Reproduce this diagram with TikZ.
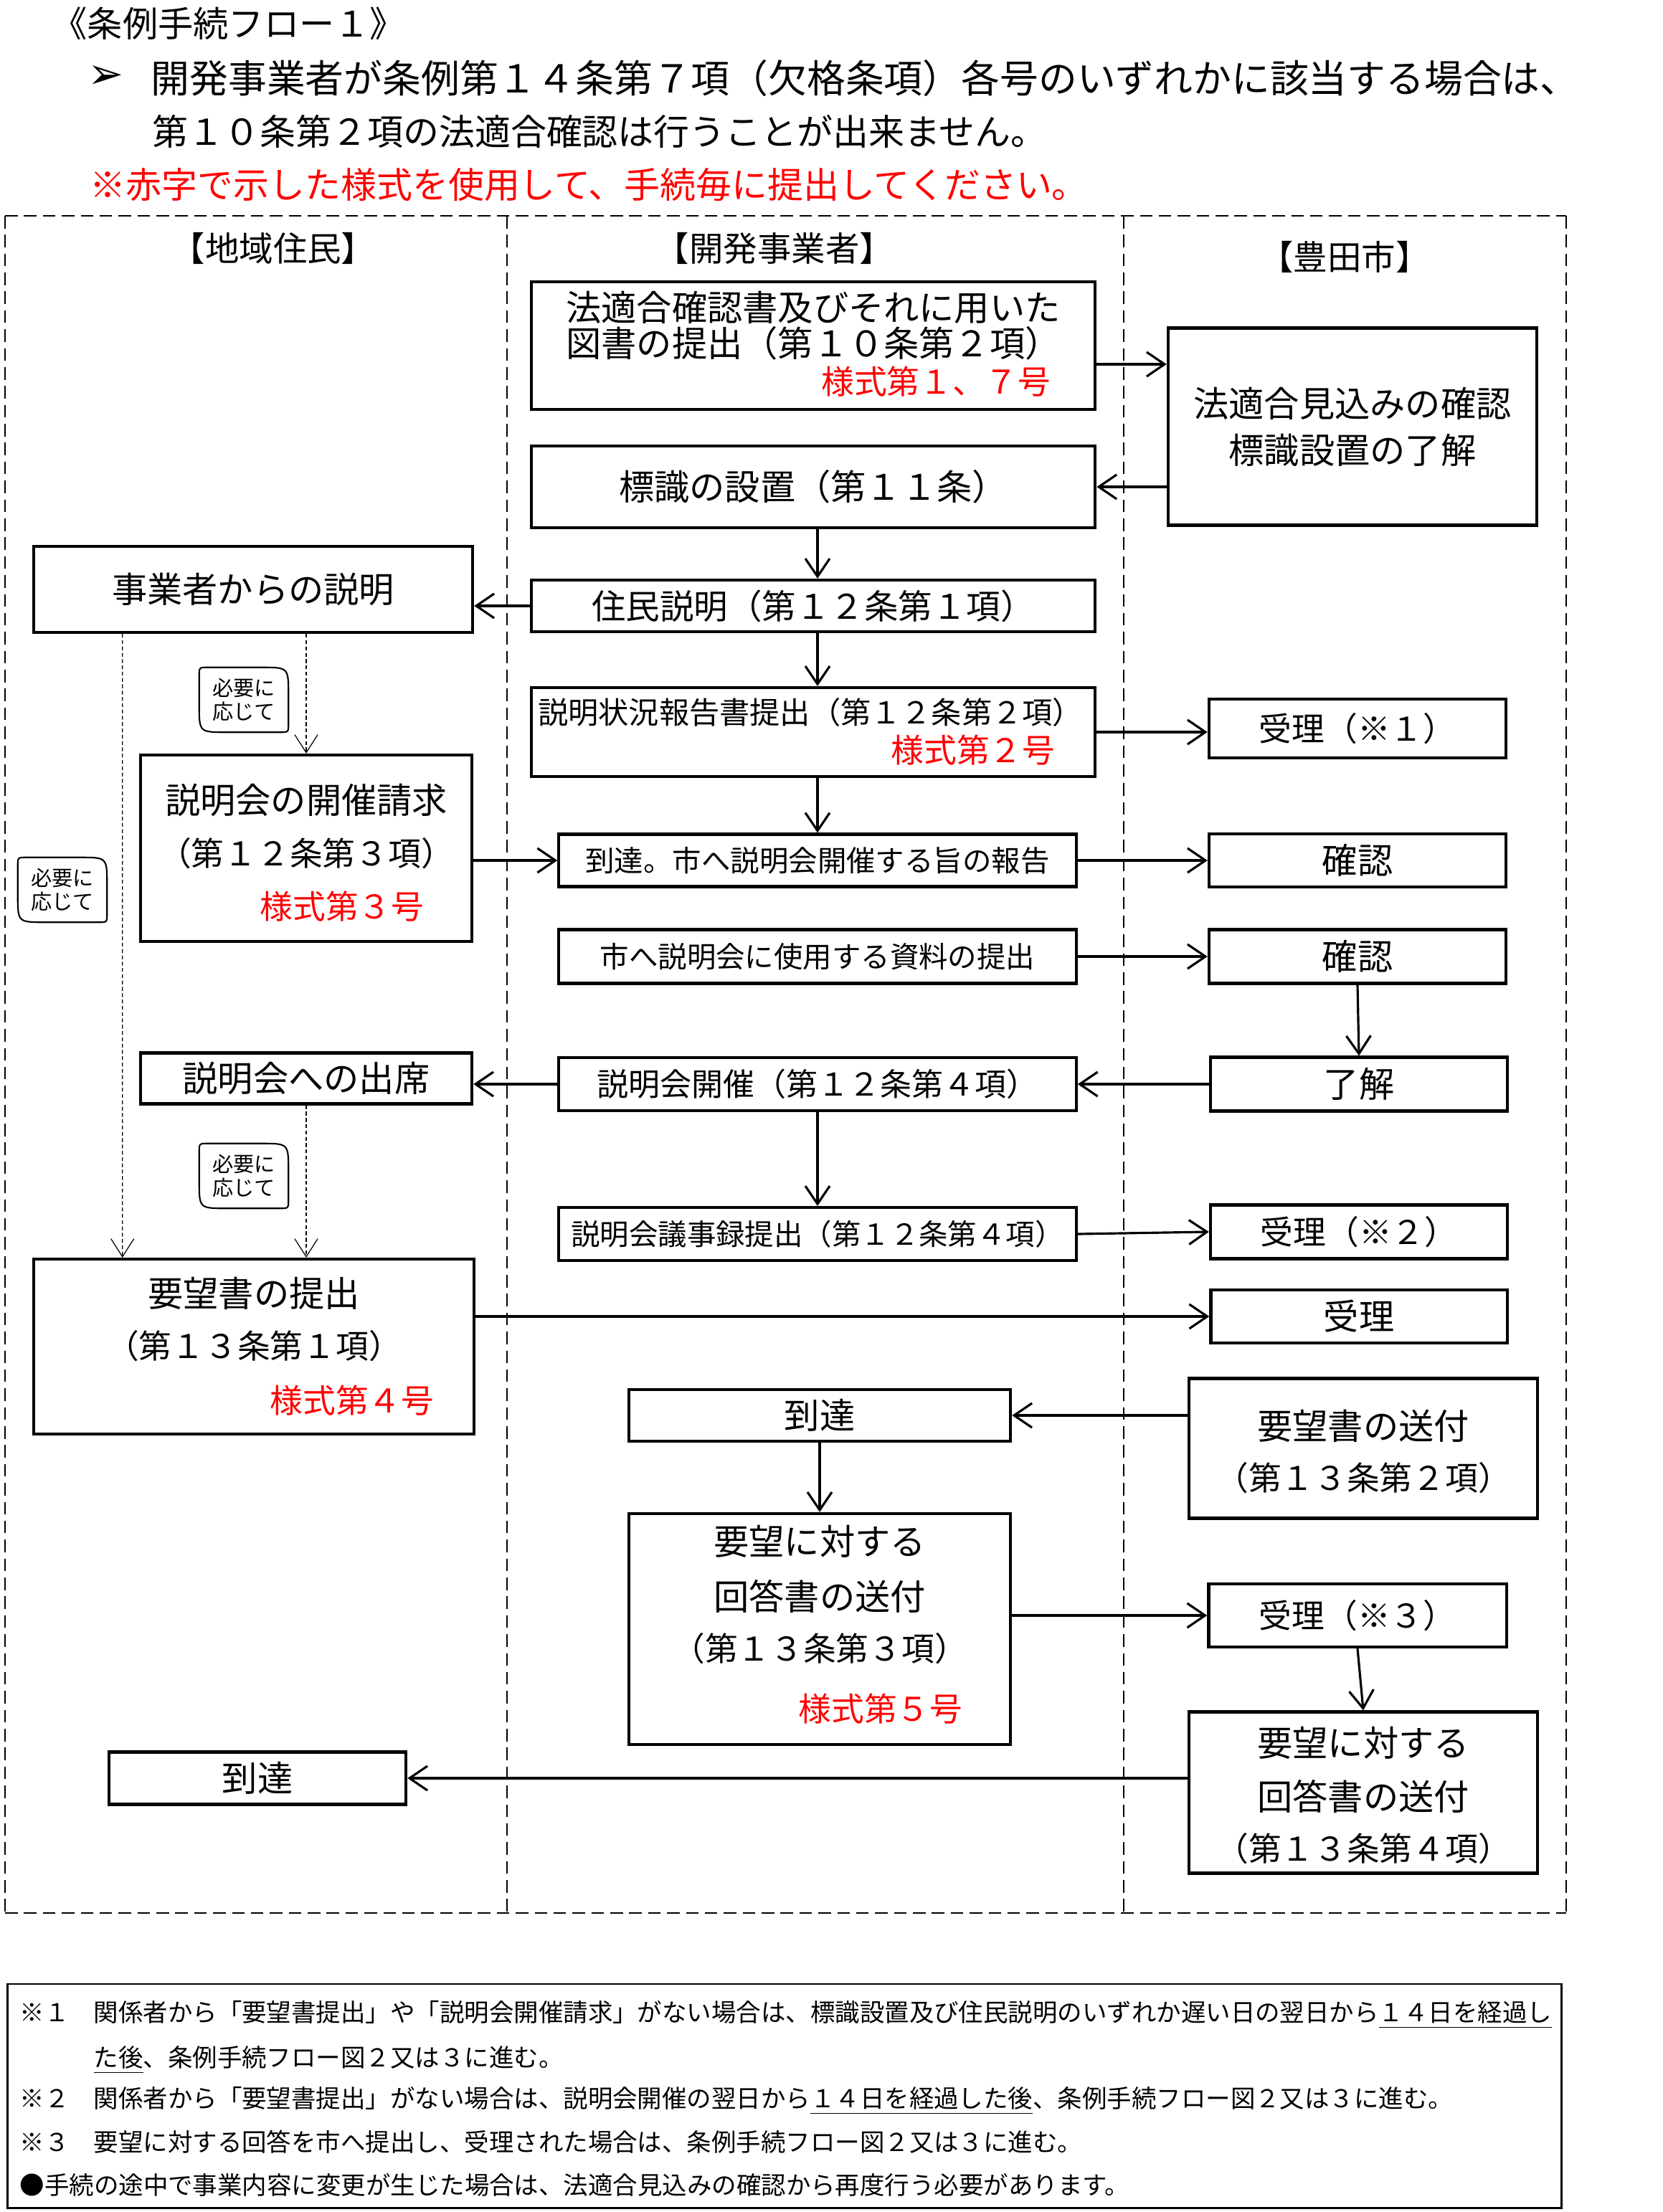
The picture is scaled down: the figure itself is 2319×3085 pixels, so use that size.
\documentclass[tikz,border=0pt]{standalone}
\usepackage{fontspec}
\setmainfont{Noto Sans CJK JP}
\newfontfamily\dejavu{DejaVu Sans}
\usepackage{xcolor}
\usetikzlibrary{positioning,calc,arrows.meta}
\definecolor{formred}{RGB}{255,0,0}
\newcommand{\fs}[1]{\fontsize{#1}{#1}\selectfont}
\newcommand{\bubbleline}[1]{%
  \draw[line width=0.6pt]
    ($(#1.north west)+(0,12)$) .. controls (#1.north west) .. ($(#1.north west)+(12,0)$)
    -- ($(#1.north east)+(-38,0)$) .. controls (#1.north east) .. ($(#1.north east)+(0,38)$)
    -- ($(#1.south east)+(0,-12)$) .. controls (#1.south east) .. ($(#1.south east)+(-12,0)$)
    -- ($(#1.south west)+(38,0)$) .. controls (#1.south west) .. ($(#1.south west)+(0,-38)$)
    -- cycle;}

\begin{document}
\begin{tikzpicture}[x=0.01cm,y=-0.01cm,
    box/.style={draw, line width=1.2pt, inner sep=0pt, font=\fs{14}},
    txt/.style={inner sep=0pt, font=\fs{14}},
    ptxt/.style={inner sep=0pt, font=\fs{13}},
    form/.style={inner sep=0pt, anchor=east, text=formred, font=\fs{13}},
    head/.style={inner sep=0pt, anchor=west, font=\fs{14.2}},
    lane/.style={line width=0.7pt, dash pattern=on 5pt off 2.5pt},
    arr/.style={line width=0.9pt, -{Straight Barb[length=2.5mm,width=3.4mm]}},
    optarr/.style={line width=0.35pt, dash pattern=on 1.5pt off 1pt, -{Straight Barb[length=2.5mm,width=3.2mm]}},
    bubble/.style={inner sep=0pt, minimum width=1.23cm, minimum height=0.89cm, align=left, font=\fontsize{8.3}{9.5}\selectfont},
    note/.style={inner sep=0pt, anchor=west, font=\fs{9.8}}
]
\useasboundingbox (0,0) rectangle (2319,3085);

% heading
\node[head, font=\fs{14}] (title) at (72,33) {《条例手続フロー１》};
\node[inner sep=0pt, font=\dejavu\fs{17}] (mark) at (148,108) {➢};
\node[head, font=\fs{15.3}] (cond1) at (210,109) {開発事業者が条例第１４条第７項（欠格条項）各号のいずれかに該当する場合は、};
\node[head] (cond2) at (212,183) {第１０条第２項の法適合確認は行うことが出来ません。};
\node[head, text=formred] (redmsg) at (125,258) {※赤字で示した様式を使用して、手続毎に提出してください。};

% lanes
\draw[lane] (7,301) -- (2184,301);
\draw[lane] (7,2668) -- (2184,2668);
\foreach \lx in {7,707,1567,2184}
  \draw[lane] (\lx,301) -- (\lx,2668);
\node[txt, font=\fs{13.5}] (laneA) at (381,346) {【地域住民】};
\node[txt, font=\fs{13.5}] (laneB) at (1080,346) {【開発事業者】};
\node[txt, font=\fs{13.5}] (laneC) at (1875,358) {【豊田市】};

% developer
\node[box, minimum width=7.86cm, minimum height=1.78cm] (teishutsu) at (1134,482) {};
\node[txt] (teishutsu-1) at (1134,429) {法適合確認書及びそれに用いた};
\node[txt] (teishutsu-2) at (1134,479) {図書の提出（第１０条第２項）};
\node[form] (teishutsu-f) at (1466,532) {様式第１、７号};
\node[box, minimum width=7.86cm, minimum height=1.14cm] (hyoushiki) at (1134,679) {標識の設置（第１１条）};
\node[box, minimum width=7.86cm, minimum height=0.72cm, font=\fs{13.5}] (juumin) at (1134,845) {住民説明（第１２条第１項）};
\node[box, minimum width=7.86cm, minimum height=1.24cm] (joukyou) at (1134,1021) {};
\node[txt, font=\fs{12}] (joukyou-1) at (1130,993) {説明状況報告書提出（第１２条第２項）};
\node[form] (joukyou-f) at (1472,1046) {様式第２号};
\node[box, minimum width=7.21cm, minimum height=0.73cm, font=\fs{11.5}] (houkoku) at (1140,1200) {到達。市へ説明会開催する旨の報告};
\node[box, minimum width=7.21cm, minimum height=0.75cm, font=\fs{11.5}] (shiryou) at (1140,1334) {市へ説明会に使用する資料の提出};
\node[box, minimum width=7.21cm, minimum height=0.74cm, font=\fs{12.5}] (kaisai) at (1140,1512) {説明会開催（第１２条第４項）};
\node[box, minimum width=7.21cm, minimum height=0.74cm, font=\fs{11.5}] (gijiroku) at (1140,1721) {説明会議事録提出（第１２条第４項）};
\node[box, minimum width=5.32cm, minimum height=0.72cm] (toutatsu) at (1143,1974) {到達};
\node[box, minimum width=5.32cm, minimum height=3.22cm] (kaitou) at (1143,2272) {};
\node[txt] (kaitou-1) at (1143,2150) {要望に対する};
\node[txt] (kaitou-2) at (1143,2226) {回答書の送付};
\node[ptxt] (kaitou-3) at (1143,2299) {（第１３条第３項）};
\node[form] (kaitou-f) at (1343,2383) {様式第５号};

% city
\node[box, minimum width=5.14cm, minimum height=2.75cm, align=center, font=\fontsize{14}{18.5}\selectfont] (mikomi) at (1886,595) {法適合見込みの確認\\標識設置の了解};
\node[box, minimum width=4.14cm, minimum height=0.82cm, font=\fs{13}] (juri1) at (1893,1016) {受理（※１）};
\node[box, minimum width=4.14cm, minimum height=0.74cm] (kakunin1) at (1893,1200) {確認};
\node[box, minimum width=4.14cm, minimum height=0.75cm] (kakunin2) at (1893,1334) {確認};
\node[box, minimum width=4.14cm, minimum height=0.75cm] (ryoukai) at (1895,1512) {了解};
\node[box, minimum width=4.14cm, minimum height=0.75cm, font=\fs{13}] (juri2) at (1895,1718) {受理（※２）};
\node[box, minimum width=4.13cm, minimum height=0.74cm] (juri) at (1895,1836) {受理};
\node[box, minimum width=4.86cm, minimum height=1.95cm] (soufu) at (1901,2020) {};
\node[txt] (soufu-1) at (1901,1989) {要望書の送付};
\node[ptxt] (soufu-2) at (1901,2061) {（第１３条第２項）};
\node[box, minimum width=4.15cm, minimum height=0.88cm, font=\fs{13}] (juri3) at (1893,2253) {受理（※３）};
\node[box, minimum width=4.86cm, minimum height=2.25cm] (kaitou4) at (1901,2500) {};
\node[txt] (kaitou4-1) at (1901,2431) {要望に対する};
\node[txt] (kaitou4-2) at (1901,2505) {回答書の送付};
\node[ptxt] (kaitou4-3) at (1901,2578) {（第１３条第４項）};

% residents
\node[box, minimum width=6.12cm, minimum height=1.20cm] (setsumei) at (353,822) {事業者からの説明};
\node[box, minimum width=4.61cm, minimum height=2.60cm] (seikyuu) at (427,1183) {};
\node[txt] (seikyuu-1) at (427,1116) {説明会の開催請求};
\node[ptxt] (seikyuu-2) at (427,1190) {（第１２条第３項）};
\node[form] (seikyuu-f) at (592,1264) {様式第３号};
\node[box, minimum width=4.62cm, minimum height=0.71cm] (shusseki) at (427,1504) {説明会への出席};
\node[box, minimum width=6.14cm, minimum height=2.44cm] (youbou) at (354,1878) {};
\node[txt] (youbou-1) at (354,1804) {要望書の提出};
\node[ptxt] (youbou-2) at (354,1877) {（第１３条第１項）};
\node[form] (youbou-f) at (606,1953) {様式第４号};
\node[box, minimum width=4.14cm, minimum height=0.73cm] (toutatsu3) at (359,2480) {到達};

\node[bubble] (hitsuyou1) at (340,976) {必要に\\応じて};
\node[bubble] (hitsuyou2) at (87,1241) {必要に\\応じて};
\node[bubble] (hitsuyou3) at (340,1640) {必要に\\応じて};
\bubbleline{hitsuyou1}
\bubbleline{hitsuyou2}
\bubbleline{hitsuyou3}

% connectors
\coordinate (lvlA) at (0,508);
\draw[arr] (teishutsu.east |- lvlA) -- (mikomi.west |- lvlA);
\draw[arr] (mikomi.west |- hyoushiki.east) -- (hyoushiki.east);
\draw[arr] (hyoushiki.south -| houkoku.north) -- (juumin.north -| houkoku.north);
\draw[arr] (juumin.west) -- (setsumei.east |- juumin.west);
\draw[arr] (juumin.south -| houkoku.north) -- (joukyou.north -| houkoku.north);
\draw[arr] (joukyou.east) -- (juri1.west |- joukyou.east);
\draw[arr] (joukyou.south -| houkoku.north) -- (houkoku.north);
\draw[arr] (seikyuu.east |- houkoku.west) -- (houkoku.west);
\draw[arr] (houkoku.east) -- (kakunin1.west);
\draw[arr] (shiryou.east) -- (kakunin2.west);
\draw[arr] (kakunin2.south) -- (ryoukai.north);
\draw[arr] (ryoukai.west) -- (kaisai.east);
\draw[arr] (kaisai.west) -- (shusseki.east |- kaisai.west);
\draw[arr] (kaisai.south) -- (gijiroku.north);
\draw[arr] (gijiroku.east) -- (juri2.west);
\draw[arr] (youbou.east |- juri.west) -- (juri.west);
\draw[arr] (soufu.west |- toutatsu.east) -- (toutatsu.east);
\draw[arr] (toutatsu.south) -- (kaitou.north);
\draw[arr] (kaitou.east |- juri3.west) -- (juri3.west);
\draw[arr] (juri3.south) -- (kaitou4.north);
\draw[arr] (kaitou4.west |- toutatsu3.east) -- (toutatsu3.east);
\draw[optarr] ($(setsumei.south west)+(126,0)$) -- ($(youbou.north west)+(126,0)$);
\draw[optarr] (setsumei.south -| seikyuu.north) -- (seikyuu.north);
\draw[optarr] (shusseki.south) -- (youbou.north -| shusseki.south);

% notes
\node[draw, line width=0.8pt, inner sep=0pt, minimum width=21.65cm, minimum height=3.12cm] (notes) at (1094,2923) {};
\node[note] (note1) at (27,2810) {\makebox[1.03cm][l]{※１}関係者から「要望書提出」や「説明会開催請求」がない場合は、標識設置及び住民説明のいずれか遅い日の翌日から\underline{１４日を経過し}};
\node[note] (note1b) at (130,2873) {\underline{た後}、条例手続フロー図２又は３に進む。};
\node[note] (note2) at (27,2930) {\makebox[1.03cm][l]{※２}関係者から「要望書提出」がない場合は、説明会開催の翌日から\underline{１４日を経過した後}、条例手続フロー図２又は３に進む。};
\node[note] (note3) at (27,2987) {\makebox[1.03cm][l]{※３}要望に対する回答を市へ提出し、受理された場合は、条例手続フロー図２又は３に進む。};
\node[note] (note4) at (27,3047) {●手続の途中で事業内容に変更が生じた場合は、法適合見込みの確認から再度行う必要があります。};
\end{tikzpicture}
\end{document}
